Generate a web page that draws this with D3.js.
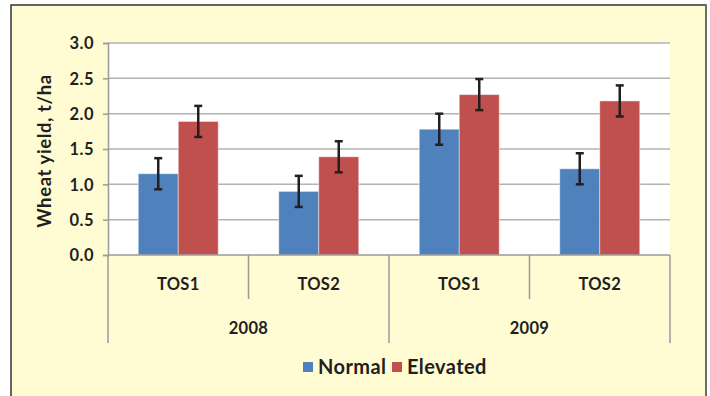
<!DOCTYPE html>
<html>
<head>
<meta charset="utf-8">
<script src="https://cdn.jsdelivr.net/npm/d3@7"></script>
<style>
  body { margin: 0; background: #ffffff; }
  text { font-family: Lato, "Open Sans", sans-serif; font-weight: bold; fill: #231f20; }
</style>
</head>
<body>
<div id="chart"></div>
<script>
// data
var years = ["2008", "2009"];
var sowings = ["TOS1", "TOS2"];
var series = ["Normal", "Elevated"];
var normal = [1.15, 0.90, 1.78, 1.22];
var elevated = [1.89, 1.39, 2.27, 2.18];
var normalErr = [0.22, 0.22, 0.22, 0.22];
var elevatedErr = [0.22, 0.22, 0.22, 0.22];
var yTicks = [0, 0.5, 1.0, 1.5, 2.0, 2.5, 3.0];

var colors = {Normal: "#4f81bd", Elevated: "#c0504d"};

var svg = d3.select("#chart")
  .append("svg")
  .attr("width", 710)
  .attr("height", 396);

// background panel
svg.append("rect")
  .attr("x", 11).attr("y", 5)
  .attr("width", 695).attr("height", 400)
  .attr("fill", "#fffbd3")
  .attr("stroke", "#333")
  .attr("stroke-width", 1.5);
svg.append("line")
  .attr("x1", 706).attr("x2", 706)
  .attr("y1", 5).attr("y2", 396)
  .attr("stroke", "#6b6b6b")
  .attr("stroke-width", 2);

var plotL = 108, plotR = 670, plotT = 43, plotB = 255;

// categories: year x sowing time
var cats = [];
years.forEach(function(yr) {
  sowings.forEach(function(s) { cats.push({year: yr, tos: s}); });
});
cats.forEach(function(c, i) {
  c.Normal = normal[i];
  c.Elevated = elevated[i];
  c.NormalErr = normalErr[i];
  c.ElevatedErr = elevatedErr[i];
  c.key = c.year + "-" + c.tos;
});

var x0 = d3.scaleBand()
  .domain(cats.map(function(d) { return d.key; }))
  .range([plotL, plotR]);

var x1 = d3.scaleBand()
  .domain(series)
  .range([30.25, x0.bandwidth() - 30.25]);

var y = d3.scaleLinear()
  .domain([0, 3.0])
  .range([plotB, plotT]);

// plot area
svg.append("rect")
  .attr("x", plotL).attr("y", plotT)
  .attr("width", plotR - plotL).attr("height", plotB - plotT)
  .attr("fill", "#ffffff");

// gridlines
svg.append("g")
  .selectAll("line")
  .data(yTicks.slice(1))
  .enter()
  .append("line")
  .attr("x1", plotL).attr("x2", plotR)
  .attr("y1", function(d) { return y(d); })
  .attr("y2", function(d) { return y(d); })
  .attr("stroke", "#b3b3b3")
  .attr("stroke-width", 1.5);

// y axis
var yAxis = svg.append("g")
  .attr("transform", "translate(" + plotL + ",0)")
  .call(d3.axisLeft(y).tickValues(yTicks).tickFormat(d3.format(".1f")).tickSize(5).tickPadding(9));
yAxis.select(".domain").attr("stroke", "#9a9a9a").attr("stroke-width", 1.5);
yAxis.selectAll(".tick line").attr("stroke", "#9a9a9a").attr("stroke-width", 1.5);
yAxis.selectAll(".tick text")
  .style("font-size", "16.5px")
  .style("font-family", "Lato, sans-serif")
  .style("letter-spacing", "0.5px")
  .attr("fill", "#231f20")
  .attr("dy", "0.36em");

// y axis title
svg.append("text")
  .attr("transform", "translate(51,151) rotate(-90)")
  .style("text-anchor", "middle")
  .style("font-size", "18.5px")
  .style("letter-spacing", "0.6px")
  .text("Wheat yield, t/ha");

// bars
var groups = svg.append("g")
  .selectAll("g")
  .data(cats)
  .enter()
  .append("g")
  .attr("transform", function(d) { return "translate(" + x0(d.key) + ",0)"; });

groups.selectAll("rect")
  .data(function(d) { return series.map(function(s) { return {s: s, v: d[s], e: d[s + "Err"]}; }); })
  .enter()
  .append("rect")
  .attr("x", function(d) { return x1(d.s); })
  .attr("width", x1.bandwidth())
  .attr("y", function(d) { return y(d.v); })
  .attr("height", function(d) { return y(0) - y(d.v); })
  .attr("fill", function(d) { return colors[d.s]; })
  .attr("stroke", "rgba(255,255,255,0.45)")
  .attr("stroke-width", 1);

// error bars
var err = groups.selectAll("g.err")
  .data(function(d) { return series.map(function(s) { return {s: s, v: d[s], e: d[s + "Err"]}; }); })
  .enter()
  .append("g")
  .attr("class", "err")
  .attr("stroke", "#231f20")
  .attr("stroke-width", 2.5);

err.append("line")
  .attr("x1", function(d) { return x1(d.s) + x1.bandwidth() / 2; })
  .attr("x2", function(d) { return x1(d.s) + x1.bandwidth() / 2; })
  .attr("y1", function(d) { return y(d.v + d.e); })
  .attr("y2", function(d) { return y(d.v - d.e); });
[1, -1].forEach(function(sign) {
  err.append("line")
    .attr("x1", function(d) { return x1(d.s) + x1.bandwidth() / 2 - 4; })
    .attr("x2", function(d) { return x1(d.s) + x1.bandwidth() / 2 + 4; })
    .attr("y1", function(d) { return y(d.v + sign * d.e); })
    .attr("y2", function(d) { return y(d.v + sign * d.e); });
});

// category axis
svg.append("line")
  .attr("x1", plotL).attr("x2", plotR)
  .attr("y1", plotB).attr("y2", plotB)
  .attr("stroke", "#9a9a9a")
  .attr("stroke-width", 1.5);

var bounds = cats.map(function(d) { return x0(d.key); }).concat([plotR]);
svg.append("g")
  .selectAll("line")
  .data(bounds)
  .enter()
  .append("line")
  .attr("x1", function(d) { return d; })
  .attr("x2", function(d) { return d; })
  .attr("y1", plotB)
  .attr("y2", function(d, i) { return i % 2 === 0 ? 343 : 299; })
  .attr("stroke", "#9a9a9a")
  .attr("stroke-width", 1.5);

svg.append("g")
  .selectAll("text")
  .data(cats)
  .enter()
  .append("text")
  .attr("x", function(d) { return x0(d.key) + x0.bandwidth() / 2; })
  .attr("y", 290)
  .style("text-anchor", "middle")
  .style("font-size", "16.5px")
  .style("letter-spacing", "0.3px")
  .text(function(d) { return d.tos; });

svg.append("g")
  .selectAll("text")
  .data(years)
  .enter()
  .append("text")
  .attr("x", function(d) { return x0(d + "-" + sowings[0]) + x0.bandwidth(); })
  .attr("y", 333.5)
  .style("text-anchor", "middle")
  .style("font-size", "16.5px")
  .style("letter-spacing", "0.3px")
  .text(function(d) { return d; });

// legend
var legendX = [303, 392];
var legend = svg.append("g")
  .selectAll("g")
  .data(series)
  .enter()
  .append("g")
  .attr("transform", function(d, i) { return "translate(" + legendX[i] + ",362)"; });
legend.append("rect")
  .attr("width", 10).attr("height", 10)
  .attr("fill", function(d) { return colors[d]; });
legend.append("text")
  .attr("x", 15)
  .attr("y", 12)
  .style("font-size", "20px")
  .style("letter-spacing", "0.4px")
  .text(function(d) { return d; });
</script>
</body>
</html>
